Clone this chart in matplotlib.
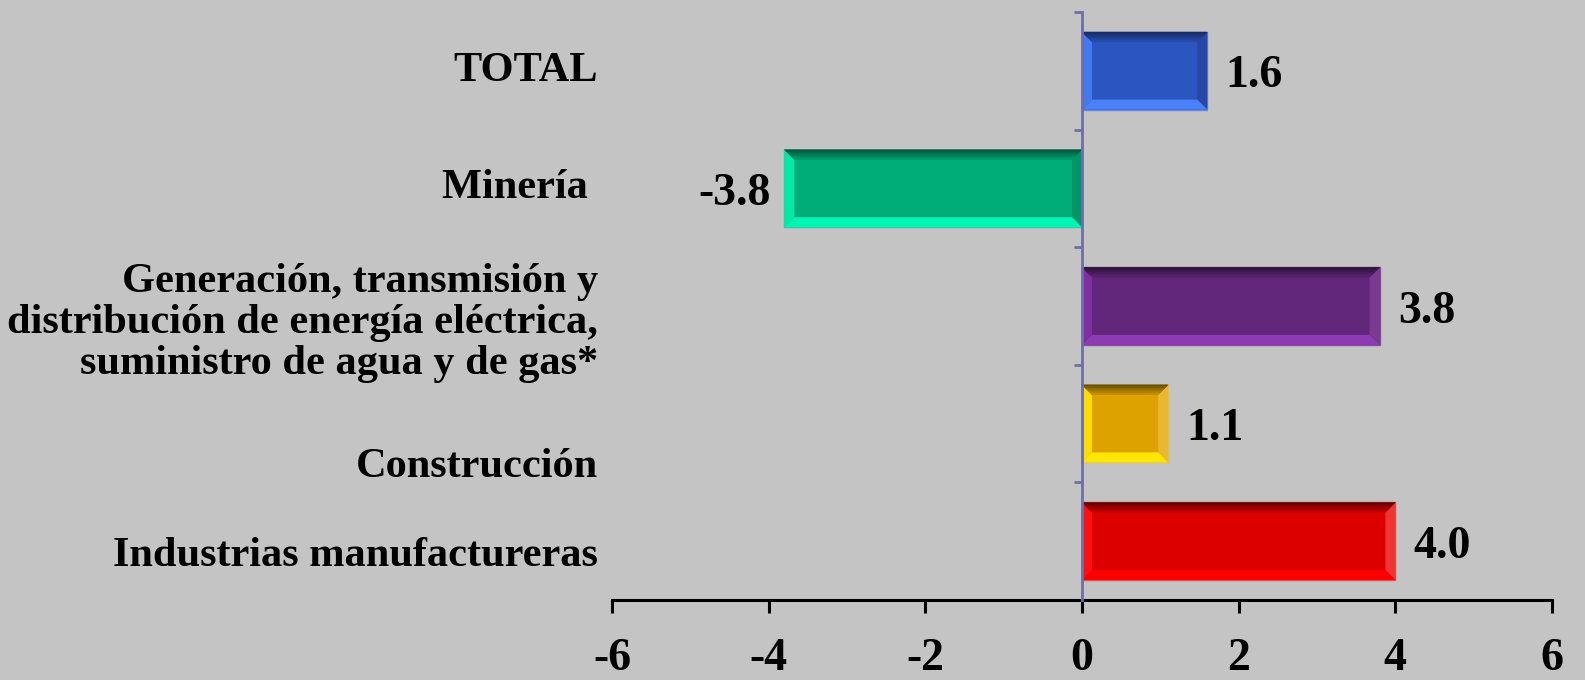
import matplotlib
matplotlib.use("Agg")
import matplotlib.pyplot as plt
from matplotlib.patches import Polygon
from matplotlib.transforms import offset_copy, blended_transform_factory

# ---- data ----
categories = [
    "TOTAL",
    "Minería ",
    "Generación, transmisión y\ndistribución de energía eléctrica,\nsuministro de agua y de gas*",
    "Construcción",
    "Industrias manufactureras",
]
values = [1.6, -3.8, 3.8, 1.1, 4.0]
value_labels = ["1.6", "-3.8", "3.8", "1.1", "4.0"]
xticks = [-6, -4, -2, 0, 2, 4, 6]
xtick_labels = ["-6", "-4", "-2", "0", "2", "4", "6"]

# ---- style ----
main_colors = ["#2B55C0", "#00AC78", "#62277A", "#DDA200", "#DD0000"]
top_colors = ["#16285E", "#004E38", "#2A1034", "#5E4800", "#580000"]
left_colors = ["#4478EE", "#00E8A8", "#7E30A0", "#FFDC00", "#FF1010"]
bottom_colors = ["#4A80FA", "#00F4B4", "#8E3AB2", "#FFE600", "#FF0000"]
right_colors = ["#2A46A4", "#00966A", "#7A3A90", "#E8B830", "#F03434"]
edge_colors = ["#6A88D8", "#30C8A0", "#8A50A8", "#E8C040", "#E05050"]
label_offsets_pt = [0, 0, -12, -31, -11]   # vertical offset of category labels
BG = "#C4C4C4"
AXIS_BLUE = "#6E6EA8"

W, H = 1585, 680
fig = plt.figure(figsize=(W / 100, H / 100), dpi=100, facecolor=BG)
ax_l, ax_b, ax_w, ax_h = 612 / W, 80 / H, 940 / W, 588 / H
ax = fig.add_axes([ax_l, ax_b, ax_w, ax_h])
ax.set_facecolor(BG)

n = len(categories)
ypos = [n - 1 - i for i in range(n)]
bar_h = 0.66

ax.set_xlim(-6, 6)
ax.set_ylim(-0.5, n - 0.5)

bars = ax.barh(ypos, values, height=bar_h, color=main_colors,
               edgecolor=edge_colors, linewidth=1.0, zorder=3)

# bevel sizes in data units (from pixel sizes)
px_per_x = ax_w * W / 12.0
px_per_y = ax_h * H / n
bx = 10 / px_per_x
by = 10 / px_per_y


def mix(c1, c2, t):
    a = matplotlib.colors.to_rgb(c1)
    b = matplotlib.colors.to_rgb(c2)
    return tuple(a[k] * (1 - t) + b[k] * t for k in range(3))


for i, rect in enumerate(bars):
    x0 = min(rect.get_x(), rect.get_x() + rect.get_width())
    x1 = max(rect.get_x(), rect.get_x() + rect.get_width())
    y0 = rect.get_y()
    y1 = y0 + rect.get_height()
    # left
    ax.add_patch(Polygon([(x0, y0), (x0 + bx, y0 + by), (x0 + bx, y1 - by), (x0, y1)],
                         closed=True, facecolor=left_colors[i], edgecolor="none", zorder=4))
    # right
    ax.add_patch(Polygon([(x1, y0), (x1 - bx, y0 + by), (x1 - bx, y1 - by), (x1, y1)],
                         closed=True, facecolor=right_colors[i], edgecolor="none", zorder=4))
    # bottom
    ax.add_patch(Polygon([(x0, y0), (x1, y0), (x1 - bx, y0 + by), (x0 + bx, y0 + by)],
                         closed=True, facecolor=bottom_colors[i], edgecolor="none", zorder=4))
    # top with gradient (dark at top edge)
    steps = 6
    for s in range(steps):
        t0 = s / steps
        t1 = (s + 1) / steps
        ya = y1 - by * t0
        yb = y1 - by * t1
        xa0, xa1 = x0 + bx * t0, x1 - bx * t0
        xb0, xb1 = x0 + bx * t1, x1 - bx * t1
        col = mix(top_colors[i], main_colors[i], (s + 0.5) / steps * 0.85)
        ax.add_patch(Polygon([(xa0, ya), (xa1, ya), (xb1, yb), (xb0, yb)],
                             closed=True, facecolor=col, edgecolor=col,
                             linewidth=0.3, zorder=4))

# value labels
for i, (v, lab) in enumerate(zip(values, value_labels)):
    if v >= 0:
        tr = offset_copy(ax.transData, fig=fig, x=13, y=-4, units="points")
        ha = "left"
    else:
        tr = offset_copy(ax.transData, fig=fig, x=-10, y=-4, units="points")
        ha = "right"
    ax.text(v, ypos[i], lab, transform=tr, ha=ha, va="center",
            fontsize=33, fontweight="bold", family="Liberation Serif", zorder=5)

# category labels
blend = blended_transform_factory(ax.transAxes, ax.transData)
for i, cat in enumerate(categories):
    tr = offset_copy(blend, fig=fig, x=-10, y=label_offsets_pt[i], units="points")
    ax.text(0, ypos[i], cat, transform=tr, ha="right", va="center",
            fontsize=30.5, fontweight="bold", family="Liberation Serif",
            linespacing=1.1, multialignment="right")

# spines
for s in ["top", "right"]:
    ax.spines[s].set_visible(False)
ax.spines["left"].set_position(("data", 0))
ax.spines["left"].set_color(AXIS_BLUE)
ax.spines["left"].set_linewidth(2)
ax.spines["left"].set_zorder(6)
ax.spines["bottom"].set_color("black")
ax.spines["bottom"].set_linewidth(2.2)

ax.set_yticks([k - 0.5 for k in range(n + 1)])
ax.set_yticklabels([])
ax.tick_params(axis="y", direction="out", length=6, width=2, color=AXIS_BLUE)

ax.set_xticks(xticks)
ax.set_xticklabels(xtick_labels)
ax.tick_params(axis="x", direction="out", length=9, width=2.2, color="black", pad=18)
for t in ax.get_xticklabels():
    t.set_fontsize(33)
    t.set_fontweight("bold")
    t.set_family("Liberation Serif")

fig.savefig("out.png", dpi=100, facecolor=BG)
